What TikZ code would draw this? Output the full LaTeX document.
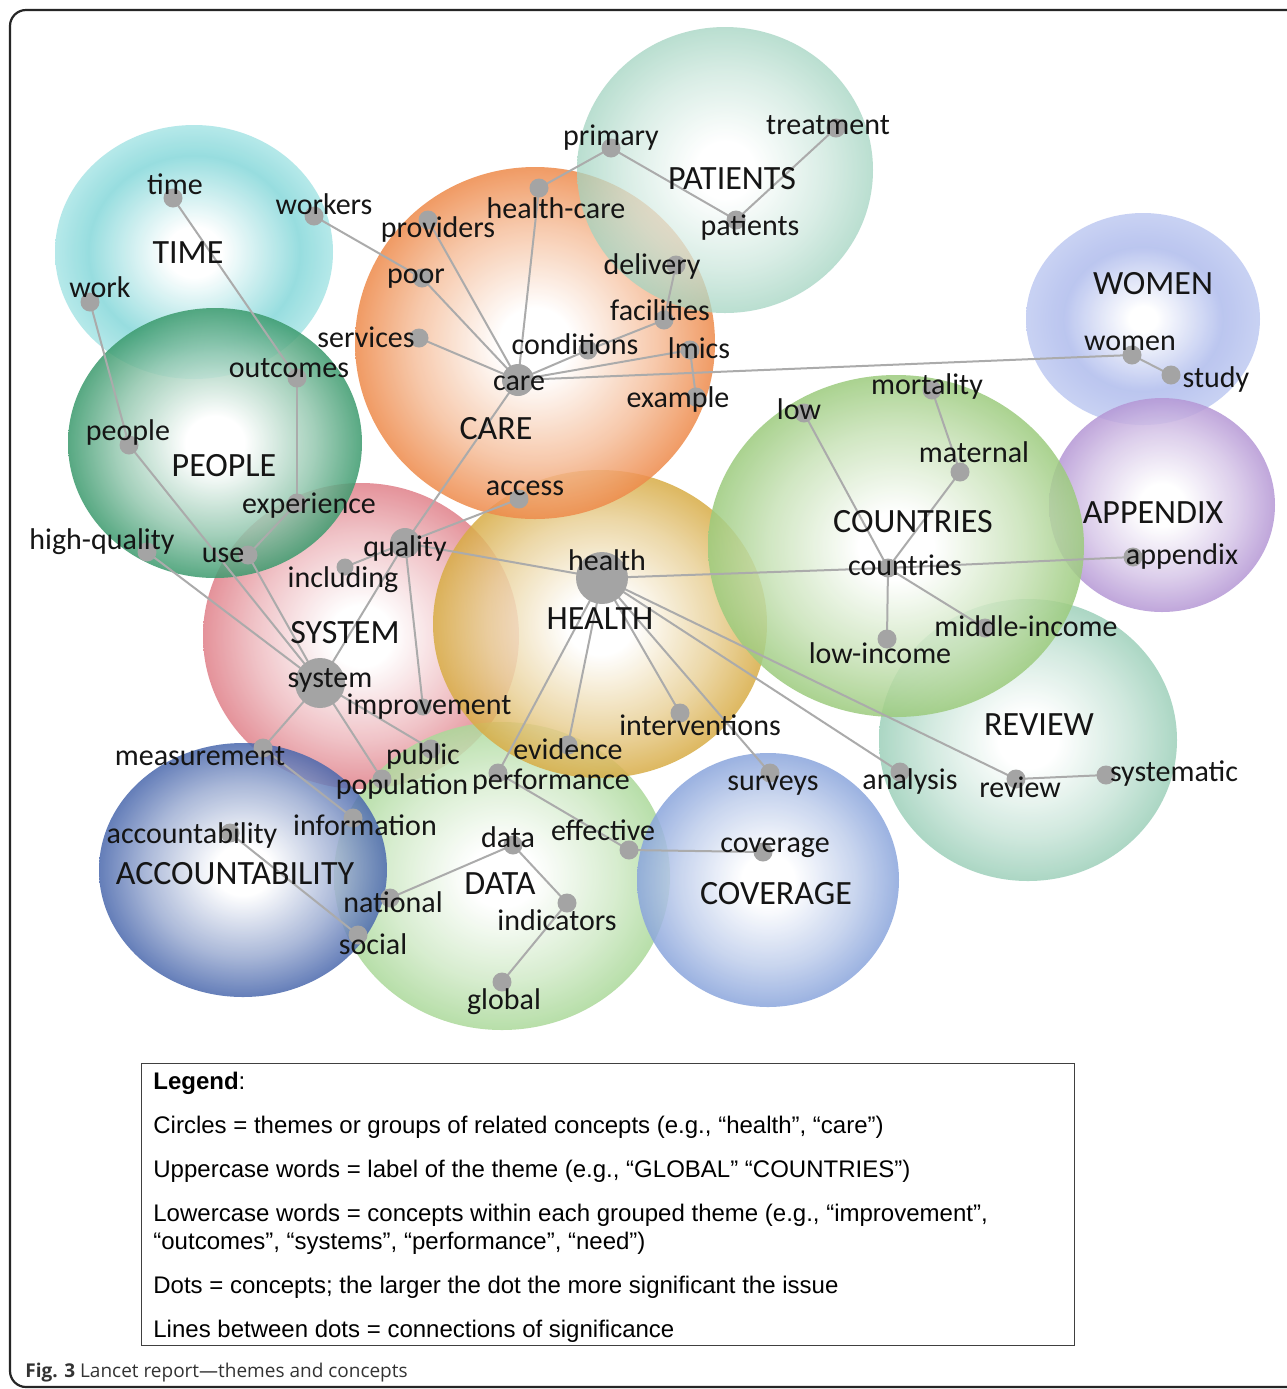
\documentclass[tikz,border=0pt]{standalone}
\usepackage{fontspec}
\setmainfont{Carlito}
\newfontfamily\legendfont{Liberation Sans}
\newfontfamily\capfont{Open Sans}
\definecolor{linegrey}{HTML}{ABABAB}
\definecolor{dotgrey}{HTML}{A4A4A4}
\definecolor{txt}{HTML}{151515}
\definecolor{timecyan}{HTML}{86D8DA}
\definecolor{timeedge}{HTML}{A9E5E6}
\definecolor{womenring}{HTML}{B4C0EE}
\definecolor{womenedge}{HTML}{C3CDF2}
\definecolor{cPatients}{HTML}{A3D4C1}
\definecolor{cCare}{HTML}{EE8A4A}
\definecolor{cAppendix}{HTML}{B597D5}
\definecolor{cPeople}{HTML}{3B9A6D}
\definecolor{cCountries}{HTML}{9CCB7D}
\definecolor{cReview}{HTML}{9DD0BA}
\definecolor{cSystem}{HTML}{E08089}
\definecolor{cHealth}{HTML}{D8AC45}
\definecolor{cData}{HTML}{ABD99A}
\definecolor{cAccount}{HTML}{4A68AD}
\definecolor{cCoverage}{HTML}{8AA5DC}
\colorlet{glowmid}{white}
\makeatletter
\pgfdeclareradialshading[tikz@radial@inner,tikz@radial@outer,glowmid]{glow}{\pgfpoint{0bp}{0bp}}{color(0bp)=(tikz@radial@inner); color(5bp)=(tikz@radial@inner); color(17bp)=(glowmid); color(25bp)=(tikz@radial@outer); color(50bp)=(tikz@radial@outer)}
\makeatother
\pgfdeclareradialshading{timeglow}{\pgfpoint{0bp}{0bp}}{color(0bp)=(white); color(5bp)=(white); color(19bp)=(timecyan); color(25bp)=(timeedge); color(50bp)=(timeedge)}
\pgfdeclareradialshading{womenglow}{\pgfpoint{0bp}{0bp}}{color(0bp)=(white); color(3bp)=(white); color(17bp)=(womenring); color(25bp)=(womenedge); color(50bp)=(womenedge)}
\tikzset{
  theme/.style={fill opacity=0.85, inner color=white, outer color=#1,
    /utils/exec={\colorlet{glowmid}{#1!55!white}}, shading=glow},
  link/.style={draw=linegrey, line width=1pt},
  dot/.style={circle, fill=dotgrey, inner sep=0pt, minimum size=9.5pt},
  lbl/.style={font=\fontsize{15}{18}\selectfont, text=txt, inner sep=0pt, text height=10.5pt, text depth=3pt},
  tlbl/.style={font=\fontsize{17}{20}\selectfont, text=txt, inner sep=0pt, text height=13pt, text depth=2pt},
  legtxt/.style={font=\legendfont\fontsize{12}{14}\selectfont, text=black, inner sep=0pt, anchor=base west},
}
\begin{document}
\begin{tikzpicture}[x=0.5pt,y=-0.5pt]
\useasboundingbox (0,0) rectangle (1287,1389);
\clip (0,0) rectangle (1287,1389);
\fill[white] (0,0) rectangle (1287,1389);

% ---------- theme circles ----------
\shade[fill opacity=0.85, shading=timeglow] (194,252) ellipse [x radius=139, y radius=127];
\shade[theme=cSystem] (361,636) ellipse [x radius=158, y radius=153];
\shade[theme=cData] (502,876) ellipse [x radius=168, y radius=154];
\shade[theme=cHealth] (600,624) ellipse [x radius=167, y radius=154];
\shade[theme=cCare] (535,343) ellipse [x radius=180, y radius=176];
\shade[theme=cPatients, fill opacity=0.75] (725,170) ellipse [x radius=148, y radius=143];
\shade[theme=cPeople] (215,443) ellipse [x radius=147, y radius=135];
\shade[fill opacity=0.9, shading=womenglow] (1143,319) ellipse [x radius=117, y radius=106];
\shade[theme=cAppendix] (1162,505) ellipse [x radius=113, y radius=107];
\shade[theme=cReview] (1028,740) ellipse [x radius=149, y radius=141];
\shade[theme=cCountries] (896,546) ellipse [x radius=188, y radius=171];
\shade[theme=cAccount] (243,870) ellipse [x radius=144, y radius=127];
\shade[theme=cCoverage] (768,880) ellipse [x radius=131, y radius=127];

% ---------- concept positions ----------
\coordinate (time) at (173,198);
\coordinate (workers) at (314,216);
\coordinate (work) at (90,302);
\coordinate (outcomes) at (297,378);
\coordinate (people) at (129,445);
\coordinate (experience) at (297,503);
\coordinate (use) at (248,555);
\coordinate (highquality) at (147,552);
\coordinate (services) at (419,338);
\coordinate (poor) at (422,278);
\coordinate (providers) at (428,220);
\coordinate (healthcare) at (539,188);
\coordinate (primary) at (611,148);
\coordinate (treatment) at (836,128);
\coordinate (patients) at (736,220);
\coordinate (delivery) at (676,265);
\coordinate (facilities) at (664,320);
\coordinate (conditions) at (588,350);
\coordinate (lmics) at (690,350);
\coordinate (care) at (518,380);
\coordinate (example) at (696,397);
\coordinate (low) at (804,413);
\coordinate (women) at (1132,355);
\coordinate (study) at (1171,375);
\coordinate (mortality) at (932,390);
\coordinate (maternal) at (960,472);
\coordinate (appendix) at (1133,557);
\coordinate (countries) at (888,568);
\coordinate (middleincome) at (985,628);
\coordinate (lowincome) at (887,639);
\coordinate (analysis) at (900,772);
\coordinate (review) at (1016,779);
\coordinate (systematic) at (1106,775);
\coordinate (access) at (519,499);
\coordinate (quality) at (405,543);
\coordinate (including) at (345,567);
\coordinate (health) at (602,578);
\coordinate (interventions) at (680,713);
\coordinate (evidence) at (568,745);
\coordinate (performance) at (498,773);
\coordinate (surveys) at (770,773);
\coordinate (system) at (320,683);
\coordinate (improvement) at (423,707);
\coordinate (measurement) at (263,748);
\coordinate (public) at (431,749);
\coordinate (population) at (382,779);
\coordinate (information) at (353,818);
\coordinate (accountability) at (230,833);
\coordinate (data) at (513,845);
\coordinate (effective) at (629,850);
\coordinate (coverage) at (763,852);
\coordinate (indicators) at (567,903);
\coordinate (global) at (502,982);
\coordinate (national) at (390,898);
\coordinate (social) at (358,935);

% ---------- connections ----------
\foreach \a/\b in {time/outcomes, workers/poor, work/people, outcomes/experience,
  experience/use, people/system, highquality/system, use/system,
  care/providers, care/poor, care/services, care/healthcare, healthcare/primary,
  primary/patients, patients/treatment, care/conditions, conditions/facilities,
  facilities/delivery, care/lmics, lmics/example, care/women, women/study,
  care/quality, quality/access, quality/including, quality/system, quality/improvement,
  quality/health, health/countries, countries/appendix, countries/low,
  countries/maternal, maternal/mortality, countries/middleincome, countries/lowincome,
  health/review, health/analysis, review/systematic, health/surveys,
  health/interventions, health/evidence, health/performance, performance/effective,
  effective/coverage, system/measurement, system/population, system/public,
  measurement/information, accountability/social, national/data, data/indicators,
  indicators/global}
  \draw[link] (\a) -- (\b);

% ---------- dots ----------
\foreach \n in {time, workers, work, outcomes, people, experience, use, highquality,
  services, poor, providers, healthcare, primary, treatment, patients, delivery,
  facilities, conditions, lmics, example, low, women, study, mortality, maternal,
  appendix, countries, middleincome, lowincome, analysis, review, systematic, access,
  interventions, evidence, performance, surveys, measurement, public,
  population, information, accountability, data, effective, coverage, indicators,
  global, national, social}
  \node[dot] (\n-d) at (\n) {};
\node[dot, minimum size=8.5pt] (including-d) at (including) {};
\node[dot, minimum size=8.5pt] (improvement-d) at (improvement) {};
\node[dot, minimum size=16pt] (care-d) at (care) {};
\node[dot, minimum size=15pt] (quality-d) at (quality) {};
\node[dot, minimum size=26pt] (health-d) at (health) {};
\node[dot, minimum size=25pt] (system-d) at (system) {};

% ---------- concept labels ----------
\node[lbl] (time-l) at (175,187) {time};
\node[lbl] (workers-l) at (324,207) {workers};
\node[lbl] (work-l) at (100,290) {work};
\node[lbl] (outcomes-l) at (289,370) {outcomes};
\node[lbl] (people-l) at (128,433) {people};
\node[lbl] (experience-l) at (309,506) {experience};
\node[lbl] (use-l) at (223,555) {use};
\node[lbl] (highquality-l) at (102,542) {high-quality};
\node[lbl] (services-l) at (366,340) {services};
\node[lbl] (poor-l) at (416,276) {poor};
\node[lbl] (providers-l) at (438,230) {providers};
\node[lbl] (healthcare-l) at (556,211) {health-care};
\node[lbl] (primary-l) at (611,138) {primary};
\node[lbl] (treatment-l) at (828,127) {treatment};
\node[lbl] (patients-l) at (750,228) {patients};
\node[lbl] (delivery-l) at (652,267) {delivery};
\node[lbl] (facilities-l) at (660,313) {facilities};
\node[lbl] (conditions-l) at (575,347) {conditions};
\node[lbl] (lmics-l) at (699,351) {lmics};
\node[lbl] (care-l) at (519,383) {care};
\node[lbl] (example-l) at (678,400) {example};
\node[lbl] (low-l) at (799,412) {low};
\node[lbl] (women-l) at (1130,343) {women};
\node[lbl] (study-l) at (1216,380) {study};
\node[lbl] (mortality-l) at (927,387) {mortality};
\node[lbl] (maternal-l) at (974,455) {maternal};
\node[lbl] (appendix-l) at (1182,557) {appendix};
\node[lbl] (countries-l) at (905,568) {countries};
\node[lbl] (middleincome-l) at (1026,629) {middle-income};
\node[lbl] (lowincome-l) at (880,656) {low-income};
\node[lbl] (analysis-l) at (910,782) {analysis};
\node[lbl] (review-l) at (1020,790) {review};
\node[lbl] (systematic-l) at (1174,774) {systematic};
\node[lbl] (access-l) at (525,488) {access};
\node[lbl] (quality-l) at (405,549) {quality};
\node[lbl] (including-l) at (343,580) {including};
\node[lbl] (health-l) at (607,563) {health};
\node[lbl] (interventions-l) at (700,728) {interventions};
\node[lbl] (evidence-l) at (568,752) {evidence};
\node[lbl] (performance-l) at (551,782) {performance};
\node[lbl] (surveys-l) at (773,783) {surveys};
\node[lbl] (system-l) at (330,680) {system};
\node[lbl] (improvement-l) at (429,707) {improvement};
\node[lbl] (measurement-l) at (200,758) {measurement};
\node[lbl] (public-l) at (423,757) {public};
\node[lbl] (population-l) at (402,787) {population};
\node[lbl] (information-l) at (365,828) {information};
\node[lbl] (accountability-l) at (192,836) {accountability};
\node[lbl] (data-l) at (508,840) {data};
\node[lbl] (effective-l) at (603,833) {effective};
\node[lbl] (coverage-l) at (775,845) {coverage};
\node[lbl] (indicators-l) at (557,923) {indicators};
\node[lbl] (global-l) at (504,1002) {global};
\node[lbl] (national-l) at (393,905) {national};
\node[lbl] (social-l) at (373,947) {social};

% ---------- theme labels ----------
\node[tlbl] (TIME) at (188,252) {TIME};
\node[tlbl] (PATIENTS) at (732,178) {PATIENTS};
\node[tlbl] (CARE) at (496,428) {CARE};
\node[tlbl] (WOMEN) at (1153,283) {WOMEN};
\node[tlbl] (PEOPLE) at (224,465) {PEOPLE};
\node[tlbl] (COUNTRIES) at (913,521) {COUNTRIES};
\node[tlbl] (APPENDIX) at (1153,512) {APPENDIX};
\node[tlbl] (SYSTEM) at (345,632) {SYSTEM};
\node[tlbl] (HEALTH) at (600,618) {HEALTH};
\node[tlbl] (REVIEW) at (1039,724) {REVIEW};
\node[tlbl] (ACCOUNTABILITY) at (235,873) {ACCOUNTABILITY};
\node[tlbl] (DATA) at (500,883) {DATA};
\node[tlbl] (COVERAGE) at (776,893) {COVERAGE};

% ---------- legend ----------
\node[draw=black!75, line width=0.6pt, fill=white, inner sep=0pt, minimum width=466.5pt, minimum height=141pt, anchor=north west] (legendbox) at (141,1063) {};
\node[legtxt] (lg0) at (153,1089) {\textbf{Legend}:};
\node[legtxt] (lg1) at (153,1133) {Circles = themes or groups of related concepts (e.g., “health”, “care”)};
\node[legtxt] (lg2) at (153,1177) {Uppercase words = label of the theme (e.g., “GLOBAL” “COUNTRIES”)};
\node[legtxt] (lg3) at (153,1221) {Lowercase words = concepts within each grouped theme (e.g., “improvement”,};
\node[legtxt] (lg4) at (153,1249) {“outcomes”, “systems”, “performance”, “need”)};
\node[legtxt] (lg5) at (153,1293) {Dots = concepts; the larger the dot the more significant the issue};
\node[legtxt] (lg6) at (153,1337) {Lines between dots = connections of significance};

% ---------- caption ----------
\node[font=\capfont\fontsize{9.5}{11}\selectfont, text=black!80, inner sep=0pt, anchor=base west] (caption) at (25,1377) {\textbf{Fig. 3} Lancet report—themes and concepts};

% ---------- frame ----------
\draw[black!85, line width=1.1pt, rounded corners=8pt] (10,10) rectangle (1330,1387);
\end{tikzpicture}
\end{document}
